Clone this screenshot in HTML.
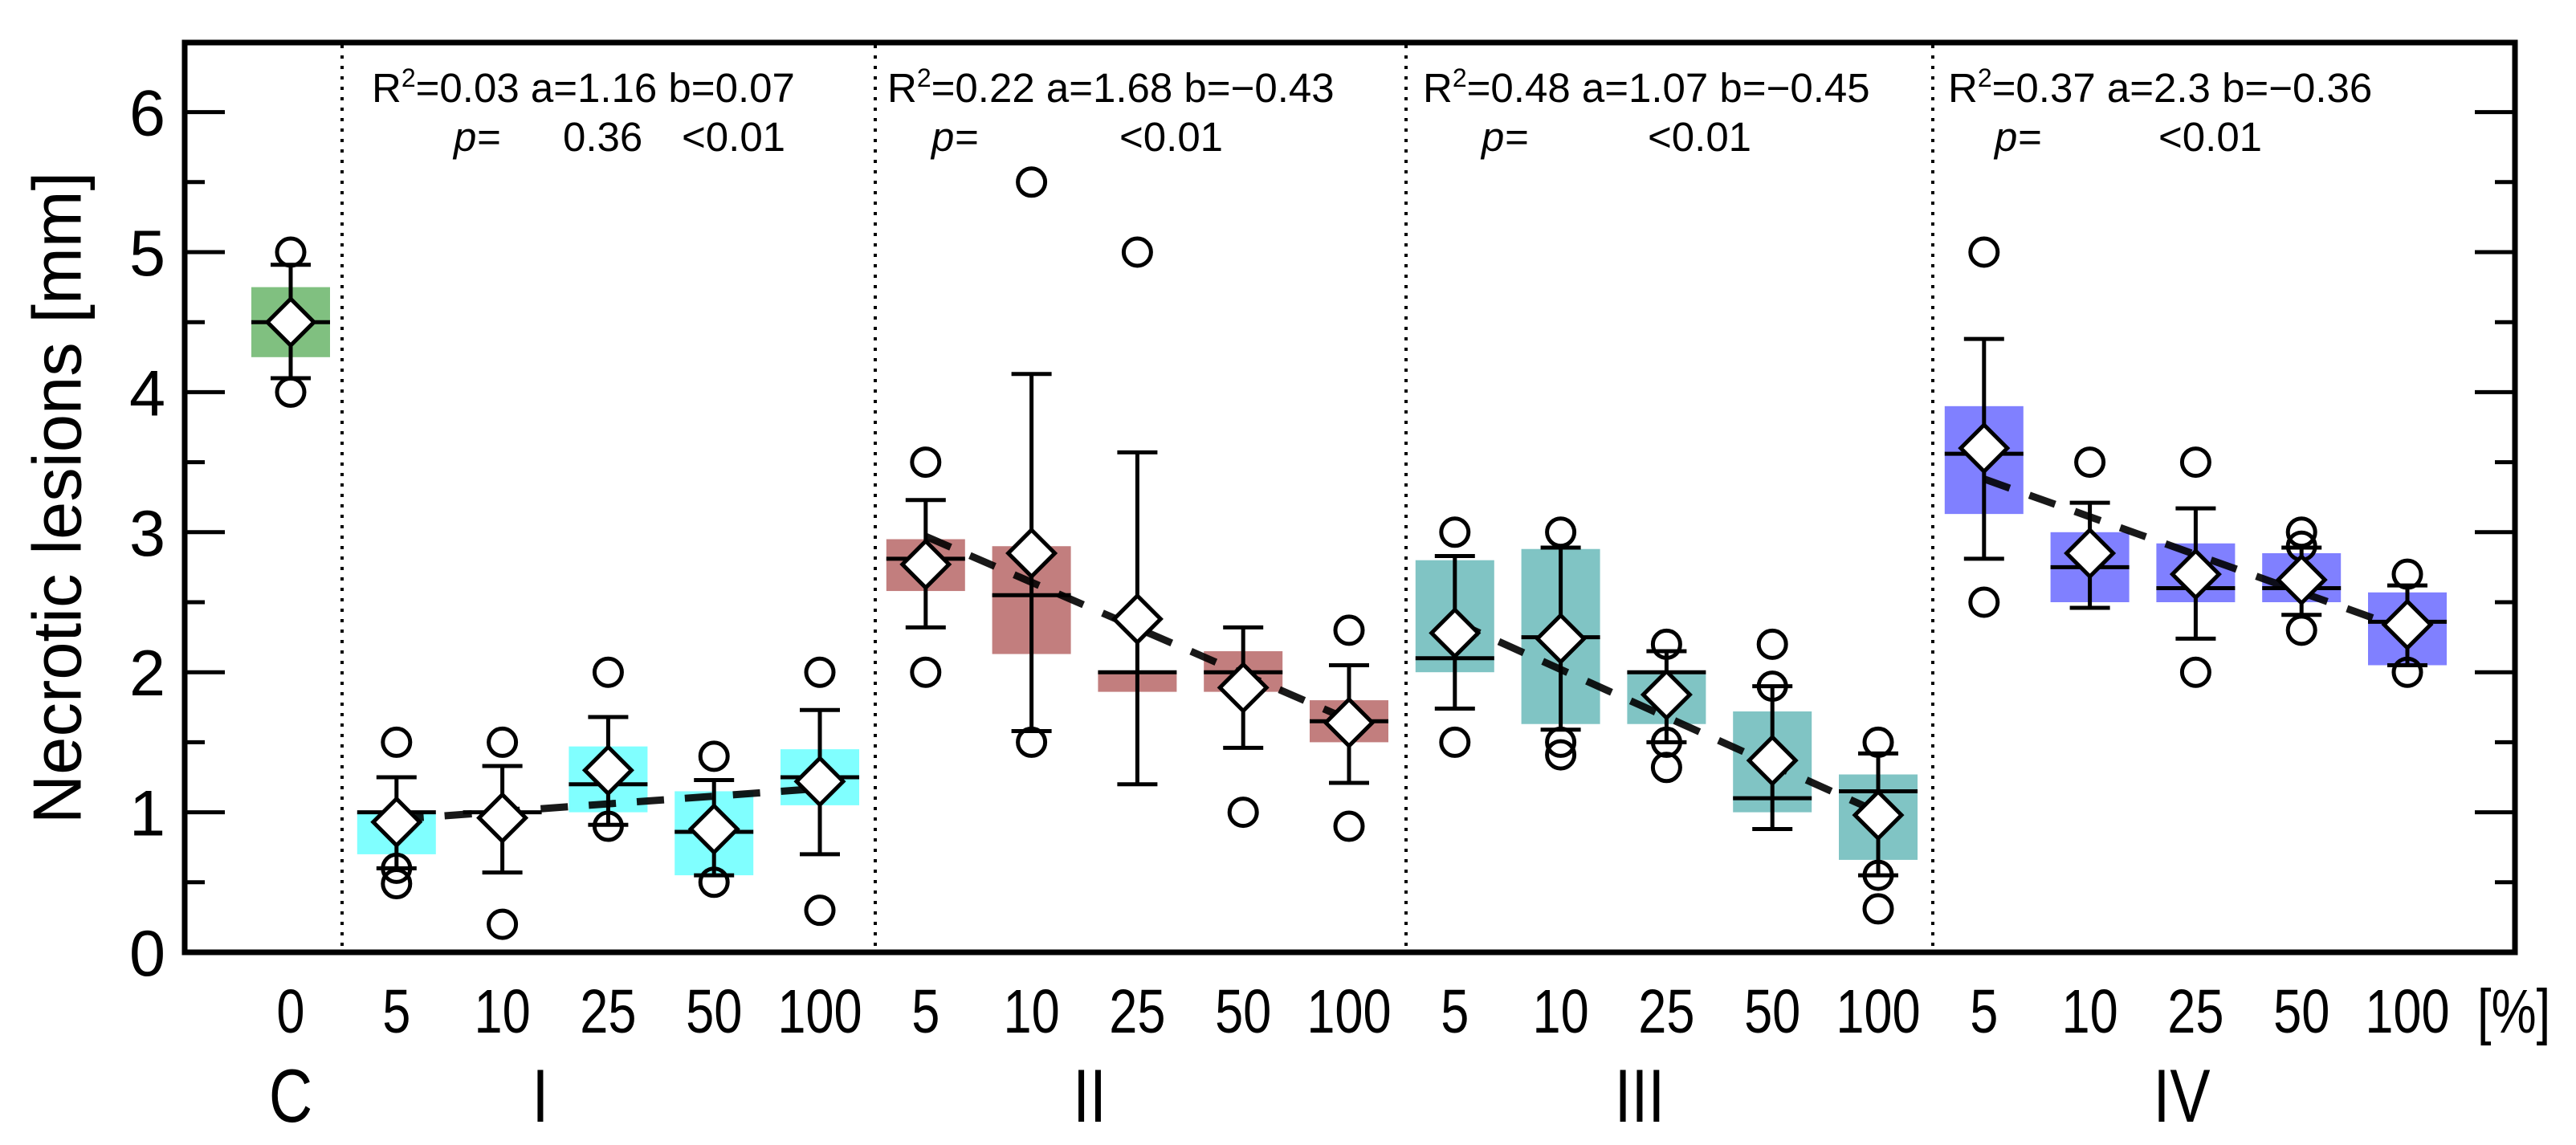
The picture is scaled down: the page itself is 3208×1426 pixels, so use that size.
<!DOCTYPE html>
<html><head><meta charset="utf-8"><style>
html,body{margin:0;padding:0;background:#fff;}
svg{display:block;font-family:"Liberation Sans",Arial,sans-serif;}
</style></head><body>
<svg id="chart" width="3208" height="1426" viewBox="0 0 3208 1426" xmlns="http://www.w3.org/2000/svg">
<rect x="0" y="0" width="3208" height="1426" fill="#fff"/>
<g id="marks"></g>
<rect x="230" y="53" width="2902" height="1133" fill="none" stroke="#000" stroke-width="7"/>
<g id="axes"></g>
<text x="78" y="620" font-size="85" text-anchor="middle" dominant-baseline="middle" transform="rotate(-90 78 620)">Necrotic lesions [mm]</text>
</svg>
<script>
const categories = ["0","5","10","25","50","100","5","10","25","50","100","5","10","25","50","100","5","10","25","50","100"];
const groupOf = [0,1,1,1,1,1,2,2,2,2,2,3,3,3,3,3,4,4,4,4,4];
const q1 =     [4.25,0.70,1.00,1.00,0.55,1.05, 2.58,2.13,1.86,1.86,1.50, 2.00,1.63,1.63,1.00,0.66, 3.13,2.50,2.50,2.50,2.05];
const q3 =     [4.75,1.00,1.00,1.47,1.15,1.45, 2.95,2.90,2.00,2.15,1.80, 2.80,2.88,2.00,1.72,1.27, 3.90,3.00,2.92,2.85,2.57];
const medians =[4.50,1.00,1.00,1.20,0.86,1.25, 2.81,2.55,2.00,2.00,1.65, 2.10,2.25,2.00,1.10,1.15, 3.56,2.75,2.60,2.60,2.36];
const means =  [4.50,0.93,0.96,1.30,0.88,1.22, 2.77,2.85,2.38,1.89,1.64, 2.28,2.24,1.84,1.37,0.98, 3.60,2.85,2.70,2.66,2.34];
const whiskHi =[4.91,1.25,1.33,1.68,1.23,1.73, 3.23,4.13,3.57,2.32,2.05, 2.83,2.89,2.15,1.90,1.42, 4.38,3.21,3.17,2.89,2.62];
const whiskLo =[4.10,0.60,0.57,0.91,0.55,0.70, 2.32,1.58,1.20,1.46,1.21, 1.74,1.59,1.50,0.88,0.55, 2.81,2.46,2.24,2.41,2.05];
const points = [[5.0,4.0],[1.5,0.6,0.49],[1.5,0.2],[2.0,0.9],[1.4,0.5],[2.0,0.3],
 [3.5,2.0],[5.5,1.5],[5.0],[1.0],[2.3,0.9],
 [3.0,1.5],[3.0,1.5,1.41],[2.2,1.5,1.32],[2.2,1.9],[1.5,0.55,0.31],
 [5.0,2.5],[3.5],[3.5,2.0],[3.0,2.9,2.3],[2.7,2.0]];
const groupColors = ["#80c080","#80ffff","#c27e7e","#80c4c4","#8080ff"];
const trendStart = [0.95,2.97,2.36,3.38];
const trendEnd = [1.17,1.66,1.00,2.30];
const yTicks = [0,1,2,3,4,5,6];
const groupNames = ["C","I","II","III","IV"];
const groupLabelX = [362,673,1357,2042,2717];
const statLine1 = ["R²=0.03 a=1.16 b=0.07","R²=0.22 a=1.68 b=−0.43","R²=0.48 a=1.07 b=−0.45","R²=0.37 a=2.3 b=−0.36"];
const pVals = [["0.36","<0.01"],["","<0.01"],["","<0.01"],["","<0.01"]];

const NS="http://www.w3.org/2000/svg";
const Y0=1186, UNIT=174.4, SW=5;
function yS(v){return Y0-v*UNIT;}
function xS(i){return 362+131.8*i;}
const marks=document.getElementById('marks'), axes=document.getElementById('axes');
function mk(tag,attrs,parent){const e=document.createElementNS(NS,tag);for(const k in attrs)e.setAttribute(k,attrs[k]);parent.appendChild(e);return e;}
function condensed(x,sx){return `translate(${x} 0) scale(${sx} 1) translate(${-x} 0)`;}

[426,1090,1751,2407].forEach(xx=>{
  const l=mk('line',{x1:xx,x2:xx,y1:56,y2:1183,stroke:'#000','stroke-width':4,'stroke-dasharray':'4 9'},marks);
  
  
});

for(let i=0;i<categories.length;i++){
  const x=xS(i), c=groupColors[groupOf[i]];
  const g=mk('g',{},marks);
  
  
  const h=Math.max(yS(q1[i])-yS(q3[i]),0);
  mk('rect',{x:x-49,y:yS(q3[i]),width:98,height:h,fill:c},g);
  mk('line',{x1:x,x2:x,y1:yS(whiskHi[i]),y2:yS(whiskLo[i]),stroke:'#000','stroke-width':SW},g);
  mk('line',{x1:x-25,x2:x+25,y1:yS(whiskHi[i]),y2:yS(whiskHi[i]),stroke:'#000','stroke-width':SW},g);
  mk('line',{x1:x-25,x2:x+25,y1:yS(whiskLo[i]),y2:yS(whiskLo[i]),stroke:'#000','stroke-width':SW},g);
  mk('line',{x1:x-49,x2:x+49,y1:yS(medians[i]),y2:yS(medians[i]),stroke:'#000','stroke-width':SW},g);
}
for(let k=0;k<4;k++){
  const a=1+5*k, b=5+5*k;
  const l=mk('line',{x1:xS(a),x2:xS(b),y1:yS(trendStart[k]),y2:yS(trendEnd[k]),stroke:'#000','stroke-width':9,'stroke-dasharray':'34 26','stroke-opacity':0.9},marks);
  
  
}
for(let i=0;i<categories.length;i++){
  const x=xS(i);
  points[i].forEach(v=>{
    const c=mk('circle',{cx:x,cy:yS(v),r:17,fill:'none',stroke:'#000','stroke-width':SW},marks);
    
    
  });
  const y=yS(means[i]);
  const d=mk('polygon',{points:`${x},${y-29} ${x+29},${y} ${x},${y+29} ${x-29},${y}`,fill:'#fff',stroke:'#000','stroke-width':SW},marks);
  
  
}
yTicks.forEach(v=>{
  const y=yS(v);
  mk('line',{x1:230,x2:280,y1:y,y2:y,stroke:'#000','stroke-width':SW},axes);
  mk('line',{x1:3082,x2:3132,y1:y,y2:y,stroke:'#000','stroke-width':SW},axes);
  if(v<6){const ym=yS(v+0.5);
    mk('line',{x1:230,x2:255,y1:ym,y2:ym,stroke:'#000','stroke-width':SW},axes);
    mk('line',{x1:3107,x2:3132,y1:ym,y2:ym,stroke:'#000','stroke-width':SW},axes);}
  const t=mk('text',{x:206,y:y+29,'font-size':81,'text-anchor':'end'},axes);
  t.textContent=v;
  
  
});
categories.forEach((c,i)=>{
  const x=xS(i);
  const t=mk('text',{x:x,y:1286,'font-size':77,'text-anchor':'middle',transform:condensed(x,0.82)},axes);
  t.textContent=c;
  
  
});
const pct=mk('text',{x:3085,y:1286,'font-size':77,transform:condensed(3085,0.82)},axes);
pct.textContent='[%]';


groupNames.forEach((g,k)=>{
  const x=groupLabelX[k];
  const t=mk('text',{x:x,y:1397,'font-size':94,'text-anchor':'middle',transform:condensed(x,0.8)},axes);
  t.textContent=g;
  
  
});
const sx=[463,1105,1772,2426], px=[565,1160,1845,2484], p1=[701,null,null,null], p2=[849,1394,2052,2688];
for(let k=0;k<4;k++){
  const t=mk('text',{x:sx[k],y:127,'font-size':51},axes);
  const parts=statLine1[k].split('²');
  t.appendChild(document.createTextNode('R'));
  const s=mk('tspan',{dy:-19,'font-size':32},t); s.textContent='2';
  const r=mk('tspan',{dy:19},t); r.textContent=parts[1];
  
  
  const p=mk('text',{x:px[k],y:188,'font-size':51,'font-style':'italic'},axes); p.textContent='p=';
  
  
  if(pVals[k][0]){const a=mk('text',{x:p1[k],y:188,'font-size':51},axes);a.textContent=pVals[k][0];
    
    }
  const b=mk('text',{x:p2[k],y:188,'font-size':51},axes);b.textContent=pVals[k][1];
  
  
}
</script>
</body></html>
